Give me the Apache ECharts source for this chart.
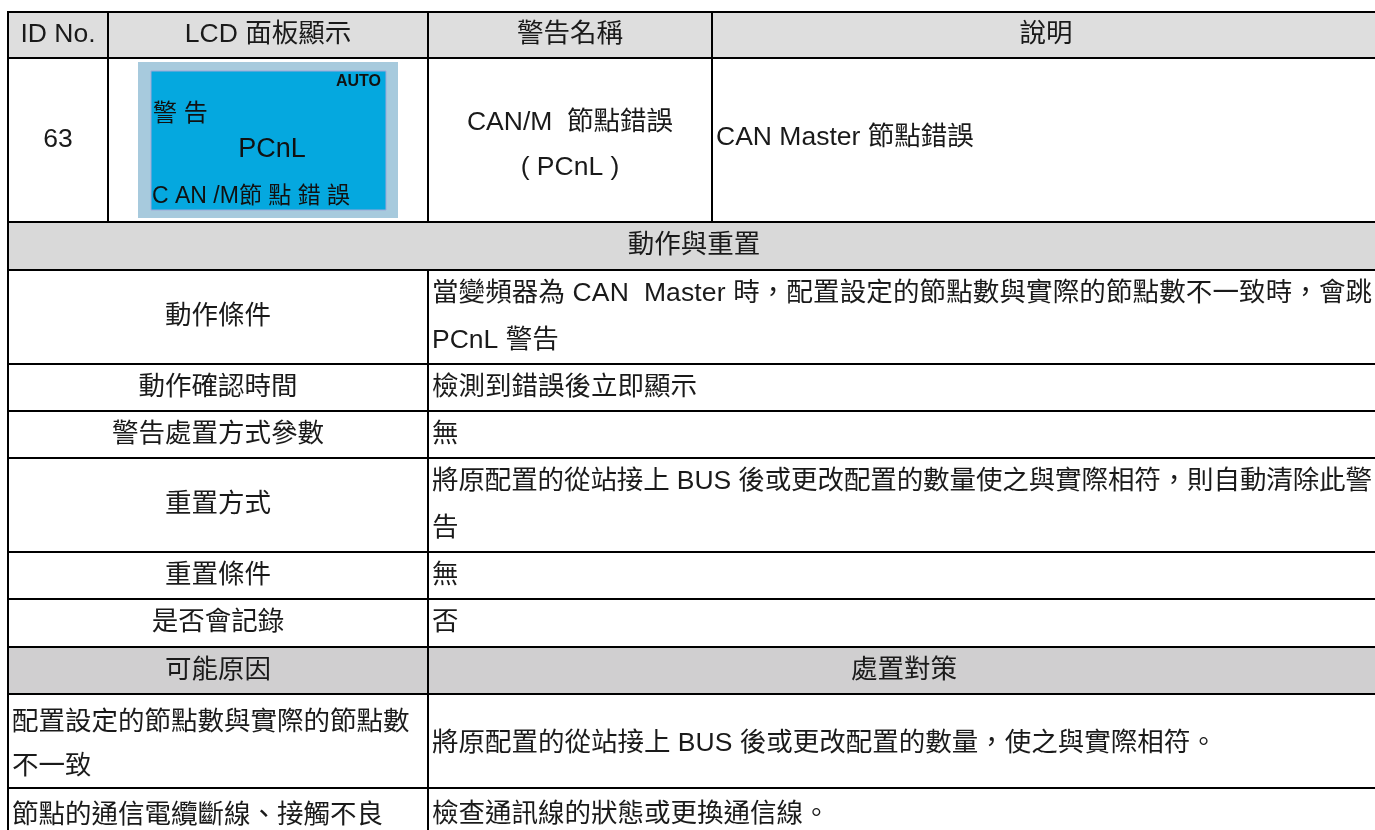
<!DOCTYPE html>
<html><head><meta charset="utf-8">
<script src="https://cdn.jsdelivr.net/npm/echarts@6/dist/echarts.min.js"></script>
<style>html,body{margin:0;padding:0;background:#fff}#c{width:1375px;height:830px}</style>
</head><body><div id="c"></div>
<script>
// ---------- content ----------
const headers = ['ID No.', 'LCD 面板顯示', '警告名稱', '說明'];
const idNo = '63';
const lcdLines = ['AUTO', '警 告', 'PCnL', 'C AN /M節 點 錯 誤'];
const warnName = ['CAN/M  節點錯誤', '( PCnL )'];
const description = 'CAN Master 節點錯誤';
const sectionTitle = '動作與重置';
const actionLabels = ['動作條件', '動作確認時間', '警告處置方式參數', '重置方式', '重置條件', '是否會記錄'];
const actionValues = [
  ['當變頻器為 CAN  Master 時，配置設定的節點數與實際的節點數不一致時，會跳', 'PCnL 警告'],
  ['檢測到錯誤後立即顯示'],
  ['無'],
  ['將原配置的從站接上 BUS 後或更改配置的數量使之與實際相符，則自動清除此警', '告'],
  ['無'],
  ['否']
];
const causeHeaders = ['可能原因', '處置對策'];
const causes = [['配置設定的節點數與實際的節點數', '不一致'], ['節點的通信電纜斷線、接觸不良']];
const remedies = [['將原配置的從站接上 BUS 後或更改配置的數量，使之與實際相符。'], ['檢查通訊線的狀態或更換通信線。']];

// ---------- layout (separate from content) ----------
const colEdges = [8, 108, 428, 712, 1380];
const rowEdges = [12, 58, 222, 270, 364, 411, 458, 552, 599, 647, 694, 788, 835];
const FONT = "'Liberation Sans','Noto Sans CJK TC',sans-serif";
const FS = 26.5;
const TXT = '#1a1a1a';
const BG_HEAD = '#dedede', BG_SEC = '#d9d9d9', BG_SEC2 = '#d0cfd0', BG = '#ffffff';
const RIGHT_TEXT_EDGE = 1372;

const cells = [];
function add(r, c0, c1, lines, opt) {
  opt = opt || {};
  cells.push({ r, c0, c1, lines, align: opt.align || 'center', bg: opt.bg || BG,
    lh: opt.lh || 47, dy: opt.dy || 0, kind: opt.kind, justify: !!opt.justify });
}
headers.forEach((h, i) => add(0, i, i + 1, [h], { bg: BG_HEAD }));
add(1, 0, 1, [idNo]);
add(1, 1, 2, [], { kind: 'lcd' });
add(1, 2, 3, warnName, { lh: 45, dy: 5 });
add(1, 3, 4, [description], { align: 'left', dy: -2 });
add(2, 0, 4, [sectionTitle], { bg: BG_SEC });
actionLabels.forEach((lab, i) => {
  add(3 + i, 0, 2, [lab]);
  add(3 + i, 2, 4, actionValues[i], { align: 'left', justify: true });
});
add(9, 0, 2, [causeHeaders[0]], { bg: BG_SEC2 });
add(9, 2, 4, [causeHeaders[1]], { bg: BG_SEC2 });
causes.forEach((c, i) => {
  add(10 + i, 0, 2, c, { align: 'left', lh: 44, dy: 4 });
  add(10 + i, 2, 4, remedies[i], { align: 'left', dy: 3 });
});

const data = cells.map(c => [colEdges[c.c0], rowEdges[c.r], colEdges[c.c1], rowEdges[c.r + 1]]);

const measureCtx = document.createElement('canvas').getContext('2d');
function charWidths(str, font) {
  measureCtx.font = font;
  return Array.from(str).map(ch => measureCtx.measureText(ch).width);
}

function lcdChildren(x0, y0) {
  const ox = x0 + 30, oy = y0 + 4, ow = 260, oh = 156;
  const ix = ox + 13, iy = oy + 9, iw = 235, ih = 139;
  return [
    { type: 'rect', shape: { x: ox, y: oy, width: ow, height: oh }, style: { fill: '#a7cadd' } },
    { type: 'rect', shape: { x: ix, y: iy, width: iw, height: ih }, style: { fill: '#05a8df', stroke: '#9fa8d8', lineWidth: 1 } },
    { type: 'text', style: { text: lcdLines[0], x: ix + iw - 5, y: iy + 11, align: 'right', verticalAlign: 'middle', font: "bold 16px 'Liberation Sans',sans-serif", fill: '#111' } },
    { type: 'text', style: { text: lcdLines[1], x: ix + 2, y: iy + 43, align: 'left', verticalAlign: 'middle', font: '24px ' + FONT, fill: '#111' } },
    { type: 'text', style: { text: lcdLines[2], x: ix + 121, y: iy + 79, align: 'center', verticalAlign: 'middle', font: '27px ' + FONT, fill: '#111' } },
    { type: 'text', style: { text: lcdLines[3], x: ix + 1, y: iy + 126, align: 'left', verticalAlign: 'middle', font: '23px ' + FONT, fill: '#111' } }
  ];
}

const chart = echarts.init(document.getElementById('c'), null, { renderer: 'canvas' });
chart.setOption({
  animation: false,
  backgroundColor: '#ffffff',
  grid: { left: 0, right: 0, top: 0, bottom: 0 },
  xAxis: { type: 'value', min: 0, max: 1375, show: false },
  yAxis: { type: 'value', min: 0, max: 830, inverse: true, show: false },
  series: [{
    type: 'custom',
    clip: false,
    data: data,
    renderItem: function (params, api) {
      const cell = cells[params.dataIndex];
      const p0 = api.coord([api.value(0), api.value(1)]);
      const p1 = api.coord([api.value(2), api.value(3)]);
      const x0 = p0[0], y0 = p0[1], x1 = p1[0], y1 = p1[1];
      const font = FS + 'px ' + FONT;
      const children = [{
        type: 'rect',
        shape: { x: x0, y: y0, width: x1 - x0, height: y1 - y0 },
        style: { fill: cell.bg, stroke: '#000', lineWidth: 2 }
      }];
      if (cell.kind === 'lcd') {
        lcdChildren(x0, y0).forEach(ch => children.push(ch));
      } else if (cell.lines.length) {
        const tx = cell.align === 'center' ? (x0 + x1) / 2 : x0 + 4;
        const cy = (y0 + y1) / 2 + cell.dy;
        const n = cell.lines.length;
        cell.lines.forEach((line, i) => {
          const ly = cy + (i - (n - 1) / 2) * cell.lh;
          if (cell.justify && i < n - 1) {
            const chars = Array.from(line);
            const w = charWidths(line, font);
            const natural = w.reduce((a, b) => a + b, 0);
            const avail = Math.min(x1, RIGHT_TEXT_EDGE) - tx;
            const extra = (avail - natural) / (chars.length - 1);
            let cx = tx;
            chars.forEach((ch, k) => {
              children.push({ type: 'text', style: { text: ch, x: cx, y: ly, align: 'left', verticalAlign: 'middle', font: font, fill: TXT } });
              cx += w[k] + extra;
            });
          } else {
            children.push({ type: 'text', style: { text: line, x: tx, y: ly, align: cell.align, verticalAlign: 'middle', font: font, fill: TXT } });
          }
        });
      }
      return { type: 'group', children: children };
    }
  }]
});
</script></body></html>
